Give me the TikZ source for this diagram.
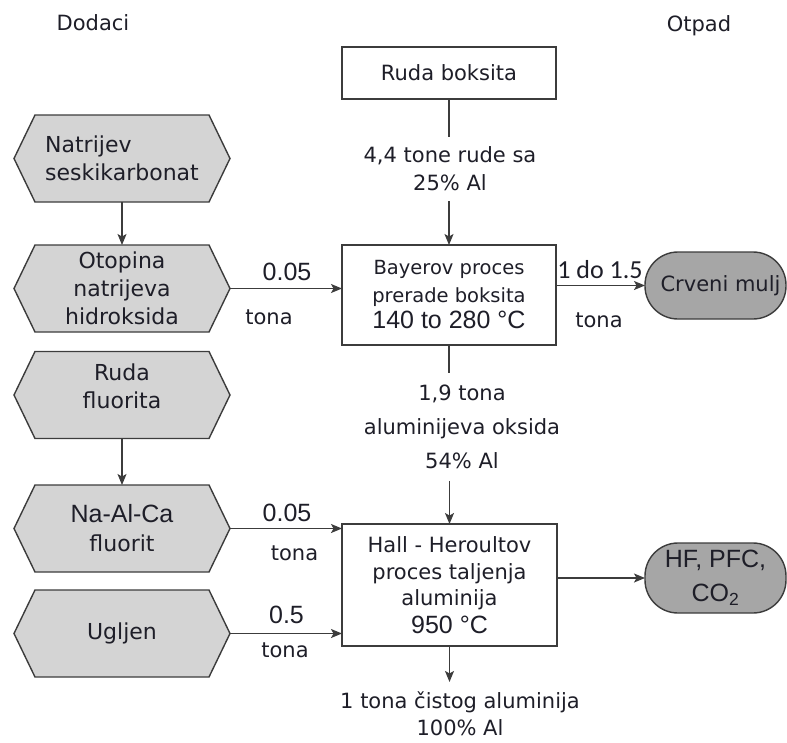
\documentclass[tikz,border=0pt]{standalone}
\usepackage{fontspec}
\setmainfont{DejaVu Sans}
\newfontfamily\arialf{Liberation Sans}
\newfontfamily\calf{Carlito}
\usetikzlibrary{arrows.meta,backgrounds}

\definecolor{hexfill}{RGB}{212,212,212}
\definecolor{termfill}{RGB}{166,166,166}
\definecolor{linec}{RGB}{60,60,60}
\definecolor{txt}{RGB}{30,30,40}

\begin{document}
\begin{tikzpicture}[x=1pt,y=-1pt,
  every node/.style={text=txt, font=\fontsize{21}{28}\selectfont},
  base/.style={inner sep=0pt, outer sep=0pt, align=center},
  procbox/.style={base, draw=linec, line width=1.4pt, fill=white, minimum width=214pt},
  hexnode/.style={base, minimum width=216pt, minimum height=87pt, font=\fontsize{22}{28}\selectfont},
  hexline/.style={draw=linec, line width=1.4pt, fill=hexfill},
  term/.style={base, draw=linec, line width=1.4pt, fill=termfill, rounded corners=33pt, minimum width=141pt},
  flow/.style={draw=linec, line width=1.4pt},
  arr/.style={flow, -{Stealth[length=11pt,width=9pt,inset=2.5pt]}},
  lbl/.style={base},
  num/.style={base, font=\arialf\fontsize{25}{30}\selectfont},
]
\useasboundingbox (0,0) rectangle (787,742);

% headings
\node[base, anchor=base] (dod) at (93,30) {Dodaci};
\node[base, anchor=base] (otp) at (699,31) {Otpad};

% main process boxes
\node[procbox, minimum height=52pt] (ruda) at (449,73) {Ruda boksita};
\node[procbox, minimum height=100pt, font=\fontsize{19.5}{28}\selectfont] (bay) at (449,295)
  {Bayerov proces\\prerade boksita\\[-2pt]{\arialf\fontsize{25}{30}\selectfont 140 to 280 °C}};
\node[procbox, minimum width=215pt, minimum height=122pt] (hall) at (449.5,585)
  {Hall - Heroultov\\[-1pt]proces taljenja\\[-2pt]aluminija\\{\arialf\fontsize{25}{30}\selectfont 950 °C}};

% flow labels on the main line
\node[lbl, outer ysep=10pt] (l1) at (450,169) {4,4 tone rude sa\\25\% Al};
\node[lbl, outer ysep=12pt, font=\fontsize{21}{34}\selectfont] (l2) at (462,427)
  {1,9 tona\\aluminijeva oksida\\54\% Al};
\node[lbl, outer ysep=10pt, font=\fontsize{21}{27}\selectfont] (l3) at (460,714) {1 tona čistog aluminija\\100\% Al};

% additives (hexagons)
\node[hexnode, align=left] (h1) at (122,158.5) {Natrijev\\seskikarbonat};
\node[hexnode] (h2) at (122,288.5) {Otopina\\natrijeva\\hidroksida};
\node[hexnode] (h3) at (122,395) {Ruda\\fluorita\\[-10pt]\mbox{}};
\node[hexnode] (h4) at (122,528.5) {{\arialf\fontsize{25}{30}\selectfont Na-Al-Ca}\\[1pt]fluorit};
\node[hexnode] (h5) at (122,633.5) {Ugljen};

\begin{scope}[on background layer]
\foreach \n in {h1,h2,h3,h4,h5}
  \draw[hexline] (\n.west) -- ([xshift=21pt]\n.north west) -- ([xshift=-21pt]\n.north east)
    -- (\n.east) -- ([xshift=-21pt]\n.south east) -- ([xshift=21pt]\n.south west) -- cycle;
\end{scope}

% waste (terminals)
\node[term, minimum height=67pt] (crv) at (715.5,285.5) {\hspace*{10pt}Crveni mulj};
\node[term, minimum height=70pt, font=\arialf\fontsize{25}{34}\selectfont] (hf) at (715.5,578)
  {HF, PFC,\\CO\textsubscript{2}};

% side labels
\node[num] (n1) at (287,272) {0.05};
\node[lbl] (t1) at (269,317) {tona};
\node[lbl, font=\calf\fontsize{26}{30}\selectfont] (n2) at (600,270) {1 do 1.5};
\node[lbl] (t2) at (599,320) {tona};
\node[num] (n3) at (287,513) {0.05};
\node[lbl] (t3) at (294.5,553) {tona};
\node[num] (n4) at (286.5,615) {0.5};
\node[lbl] (t4) at (285,650) {tona};

% connectors
\draw[flow] (ruda.south) -- (ruda.south |- l1.north);
\draw[arr] (bay.north |- l1.south) -- (bay.north);
\draw[flow] (bay.south) -- (bay.south |- l2.north);
\draw[arr] (hall.north |- l2.south) -- (hall.north);
\draw[arr] (hall.south) -- (hall.south |- l3.north);

\draw[arr] (h1.south) -- (h2.north);
\draw[arr] (h3.south) -- (h4.north);
\draw[arr] (h2.east) -- (h2.east -| bay.west);
\draw[arr] (h4.east) -- (h4.east -| hall.west);
\draw[arr] (h5.east) -- (h5.east -| hall.west);
\draw[arr] (crv.west -| bay.east) -- (crv.west);
\draw[arr] (hf.west -| hall.east) -- (hf.west);
\end{tikzpicture}
\end{document}
